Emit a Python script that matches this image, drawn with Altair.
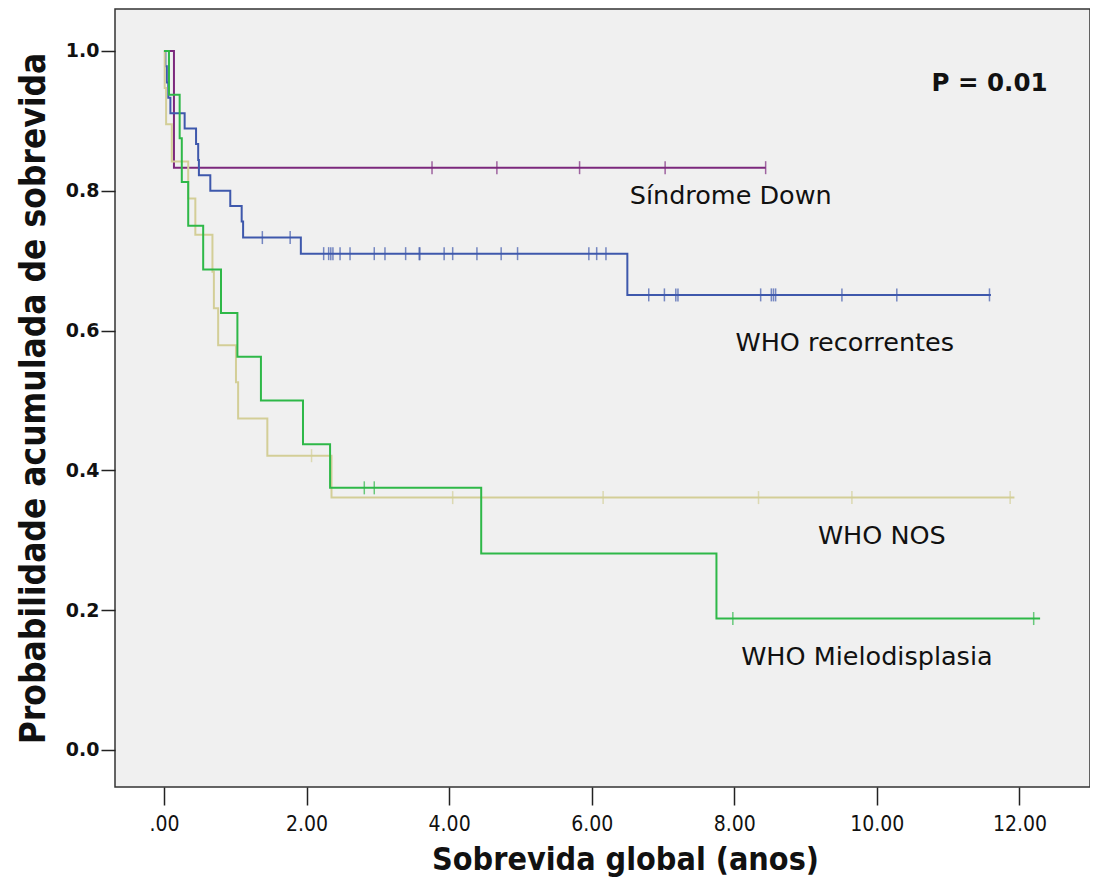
import altair as alt
import pandas as pd

# ---- data ----
groups = ["Síndrome Down", "WHO recorrentes", "WHO NOS", "WHO Mielodisplasia"]
colors = ["#7C287D", "#3E58AC", "#D3CE97", "#2EB848"]

# step curves: (time, survival after time)
down_t = [0.0, 0.14, 8.44]
down_s = [1.0, 0.833, 0.833]
down_c = [3.76, 4.67, 5.83, 7.03, 8.44]

rec_t = [0.0, 0.02, 0.04, 0.06, 0.09, 0.29, 0.45, 0.48, 0.49, 0.65, 0.93, 1.09, 1.11, 1.92, 6.50, 11.60]
rec_s = [1.0, 0.978, 0.955, 0.933, 0.911, 0.889, 0.867, 0.844, 0.822, 0.800, 0.778, 0.756, 0.733, 0.710, 0.651, 0.651]
rec_c = [1.38, 1.77, 2.24, 2.31, 2.34, 2.37, 2.47, 2.61, 2.95, 3.10, 3.39, 3.58, 3.59, 3.93, 4.05,
         4.39, 4.73, 4.96, 5.96, 6.07, 6.20, 6.80, 7.02, 7.18, 7.21, 8.37, 8.52, 8.55, 8.58, 9.51,
         10.28, 11.58]

nos_t = [0.0, 0.01, 0.03, 0.11, 0.34, 0.44, 0.68, 0.70, 0.76, 1.01, 1.04, 1.45, 2.35, 11.93]
nos_s = [1.0, 0.947, 0.895, 0.842, 0.789, 0.737, 0.684, 0.632, 0.579, 0.526, 0.474, 0.421, 0.361, 0.361]
nos_c = [2.07, 4.05, 6.16, 8.34, 9.65, 11.87]

mds_t = [0.0, 0.07, 0.22, 0.25, 0.34, 0.55, 0.80, 1.03, 1.36, 1.95, 2.33, 4.45, 7.75, 12.29]
mds_s = [1.0, 0.9375, 0.875, 0.8125, 0.75, 0.6875, 0.625, 0.5625, 0.5, 0.4375, 0.375, 0.281, 0.188, 0.188]
mds_c = [2.81, 2.95, 7.98, 12.20]

labels_txt = ["Síndrome Down", "WHO recorrentes", "WHO NOS", "WHO Mielodisplasia"]
labels_x = [7.95, 9.55, 10.07, 9.86]
labels_y = [0.792, 0.582, 0.306, 0.133]

x_ticks = [0, 2, 4, 6, 8, 10, 12]
y_ticks = [0.0, 0.2, 0.4, 0.6, 0.8, 1.0]

# ---- build tables ----
curves = [(down_t, down_s, down_c), (rec_t, rec_s, rec_c), (nos_t, nos_s, nos_c), (mds_t, mds_s, mds_c)]
line_rows, cens_rows = [], []
for g, (ts, ss, cs_) in zip(groups, curves):
    for i, (t, s) in enumerate(zip(ts, ss)):
        line_rows.append({"g": g, "t": t, "s": s, "o": i})
    for c in cs_:
        val = ss[0]
        for t, s in zip(ts, ss):
            if t <= c:
                val = s
        cens_rows.append({"g": g, "t": c, "s": val})
lines_df = pd.DataFrame(line_rows)
cens_df = pd.DataFrame(cens_rows)
lab_df = pd.DataFrame({"txt": labels_txt, "x": labels_x, "y": labels_y})

COND = "DejaVu Sans Condensed, Liberation Sans, sans-serif"

xs = alt.Scale(domain=[-0.687, 12.99], nice=False, zero=False)
ys = alt.Scale(domain=[-0.053, 1.060], nice=False, zero=False)
cs = alt.Scale(domain=groups, range=colors)

xaxis = alt.Axis(values=x_ticks, labelExpr="datum.value == 0 ? '.00' : format(datum.value, '.2f')",
                 title="Sobrevida global (anos)", grid=False, domain=False, tickSize=18,
                 tickColor="#222", tickWidth=1.5,
                 labelFont=COND, labelFontSize=21, labelColor="#111", labelPadding=8,
                 titleFont=COND, titleFontSize=32, titleFontWeight="bold",
                 titleColor="#111", titlePadding=10, titleX=510)
yaxis = alt.Axis(values=y_ticks, format=".1f", title="Probabilidade acumulada de sobrevida",
                 grid=False, domain=False, tickSize=14, tickColor="#222", tickWidth=1.5,
                 labelFont="DejaVu Sans", labelFontSize=19, labelFontWeight="bold", labelColor="#111",
                 labelPadding=2,
                 titleFont=COND, titleFontSize=35, titleFontWeight="bold",
                 titleColor="#111", titlePadding=14)

base_lines = alt.Chart(lines_df).mark_line(interpolate="step-after", strokeWidth=2).encode(
    x=alt.X("t:Q", scale=xs, axis=xaxis),
    y=alt.Y("s:Q", scale=ys, axis=yaxis),
    color=alt.Color("g:N", scale=cs, legend=None),
    order="o:Q",
)
cens = alt.Chart(cens_df).mark_tick(orient="vertical", size=13, thickness=1.5).encode(
    x=alt.X("t:Q", scale=xs),
    y=alt.Y("s:Q", scale=ys),
    color=alt.Color("g:N", scale=cs, legend=None),
)
labs = alt.Chart(lab_df).mark_text(font="DejaVu Sans", fontSize=25.5, color="#111", align="center",
                                   baseline="middle").encode(
    x=alt.X("x:Q", scale=xs), y=alt.Y("y:Q", scale=ys), text="txt:N")
ptxt = alt.Chart(pd.DataFrame({"x": [11.58], "y": [0.953], "txt": ["P = 0.01"]})).mark_text(
    font="DejaVu Sans", fontSize=24.5, fontWeight="bold", color="#111", align="center", baseline="middle"
).encode(x=alt.X("x:Q", scale=xs), y=alt.Y("y:Q", scale=ys), text="txt:N")

chart = (base_lines + cens + labs + ptxt).properties(
    width=975, height=778,
    autosize=alt.AutoSizeParams(type="none"),
    padding={"left": 107, "top": 1, "right": 0, "bottom": 90},
    background="white",
).configure_view(fill="#F0F0F0", stroke="#333", strokeWidth=1.5)

chart.save("out.html", embed_options={"renderer": "svg", "actions": False})
